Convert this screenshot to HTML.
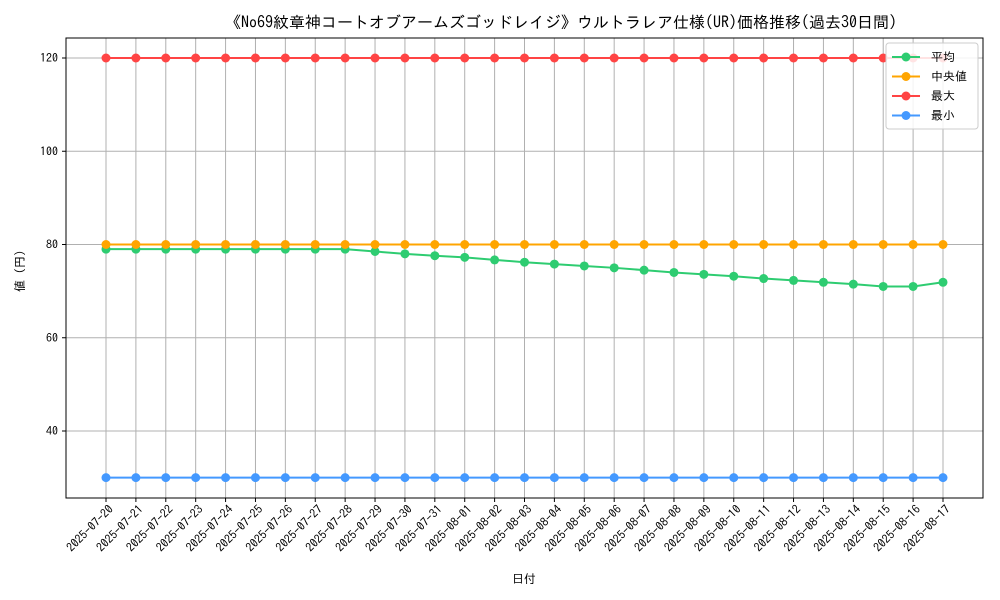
<!DOCTYPE html>
<html><head><meta charset="utf-8"><style>
body{margin:0;background:#fff;}
svg{display:block;font-family:"IPAGothic","Noto Sans CJK JP",monospace;}
</style></head><body>
<svg id="chart" width="1000" height="600" viewBox="0 0 1000 600" xmlns="http://www.w3.org/2000/svg">
<rect width="1000" height="600" fill="#fff"/>
<text x="561" y="28" text-anchor="middle" font-size="16">《No69紋章神コートオブアームズゴッドレイジ》ウルトラレア仕様(UR)価格推移(過去30日間)</text>
<g id="grid"></g>
<g id="series"></g>
<rect x="66" y="38" width="917" height="460" fill="none" stroke="#000" stroke-width="1"/>
<g id="axes"></g>
<text x="524" y="583" text-anchor="middle" font-size="12">日付</text>
<text x="24" y="268" text-anchor="middle" font-size="12" transform="rotate(-90 24 268)">値（円）</text>
<g>
<rect x="886" y="43" width="92" height="86" fill="#fff" fill-opacity="0.85" stroke="#ccc" rx="3"/>
<g id="legend"></g>
</g>
</svg>
<script>
const dates=["2025-07-20","2025-07-21","2025-07-22","2025-07-23","2025-07-24","2025-07-25","2025-07-26","2025-07-27","2025-07-28","2025-07-29","2025-07-30","2025-07-31","2025-08-01","2025-08-02","2025-08-03","2025-08-04","2025-08-05","2025-08-06","2025-08-07","2025-08-08","2025-08-09","2025-08-10","2025-08-11","2025-08-12","2025-08-13","2025-08-14","2025-08-15","2025-08-16","2025-08-17"];
const avgValues=[79,79,79,79,79,79,79,79,79,78.5,78,77.6,77.25,76.7,76.2,75.8,75.4,75,74.5,74,73.6,73.2,72.7,72.3,71.9,71.5,71,71,71.9];
const medianValues=dates.map(()=>80);
const maxValues=dates.map(()=>120);
const minValues=dates.map(()=>30);
const yTicks=[40,60,80,100,120];
const seriesNames=["平均","中央値","最大","最小"];
const NS="http://www.w3.org/2000/svg";
const n=dates.length;
const xs=i=>106+i*(943-106)/(n-1);
const ys=v=>617.5-4.6625*v;
function mk(tag,attrs,parent){const e=document.createElementNS(NS,tag);for(const k in attrs)e.setAttribute(k,attrs[k]);parent.appendChild(e);return e;}
const grid=document.getElementById('grid'),axes=document.getElementById('axes'),ser=document.getElementById('series'),leg=document.getElementById('legend');
dates.forEach((d,i)=>{
  const x=xs(i);
  const gl=mk('line',{x1:x,x2:x,y1:38,y2:498,stroke:'#b0b0b0','stroke-width':1},grid);
  
  
  mk('line',{x1:x,x2:x,y1:498,y2:502,stroke:'#000'},axes);
  const t=mk('text',{x:x+8,y:510,'font-size':12,'text-anchor':'end',transform:`rotate(-45 ${x+8} 510)`},axes);
  
  
  t.textContent=d;
});
yTicks.forEach(v=>{
  const y=ys(v);
  const gl=mk('line',{x1:66,x2:983,y1:y,y2:y,stroke:'#b0b0b0','stroke-width':1},grid);
  
  
  mk('line',{x1:62,x2:66,y1:y,y2:y,stroke:'#000'},axes);
  const t=mk('text',{x:58,y:y+4,'font-size':12,'text-anchor':'end'},axes);
  
  
  t.textContent=v;
});
const all=[[avgValues,'#2ecc71','avg'],[medianValues,'#ffa500','median'],[maxValues,'#ff4444','max'],[minValues,'#4499ff','min']];
all.forEach(([vals,c,key],si)=>{
  const g=mk('g',{},ser);
  
  
  mk('polyline',{points:vals.map((v,i)=>xs(i)+','+ys(v)).join(' '),fill:'none',stroke:c,'stroke-width':2},g);
  vals.forEach((v,i)=>{
    const p=mk('circle',{cx:xs(i),cy:ys(v),r:4.5,fill:c},g);
    
    
  });
  const ly=57+si*19.5;
  const e=mk('g',{},leg);
  
  
  mk('line',{x1:892,x2:920,y1:ly,y2:ly,stroke:c,'stroke-width':2},e);
  mk('circle',{cx:906,cy:ly,r:4.5,fill:c},e);
  const t=mk('text',{x:931,y:ly+4,'font-size':12},e);
  t.textContent=seriesNames[si];
});
</script>
</body></html>
